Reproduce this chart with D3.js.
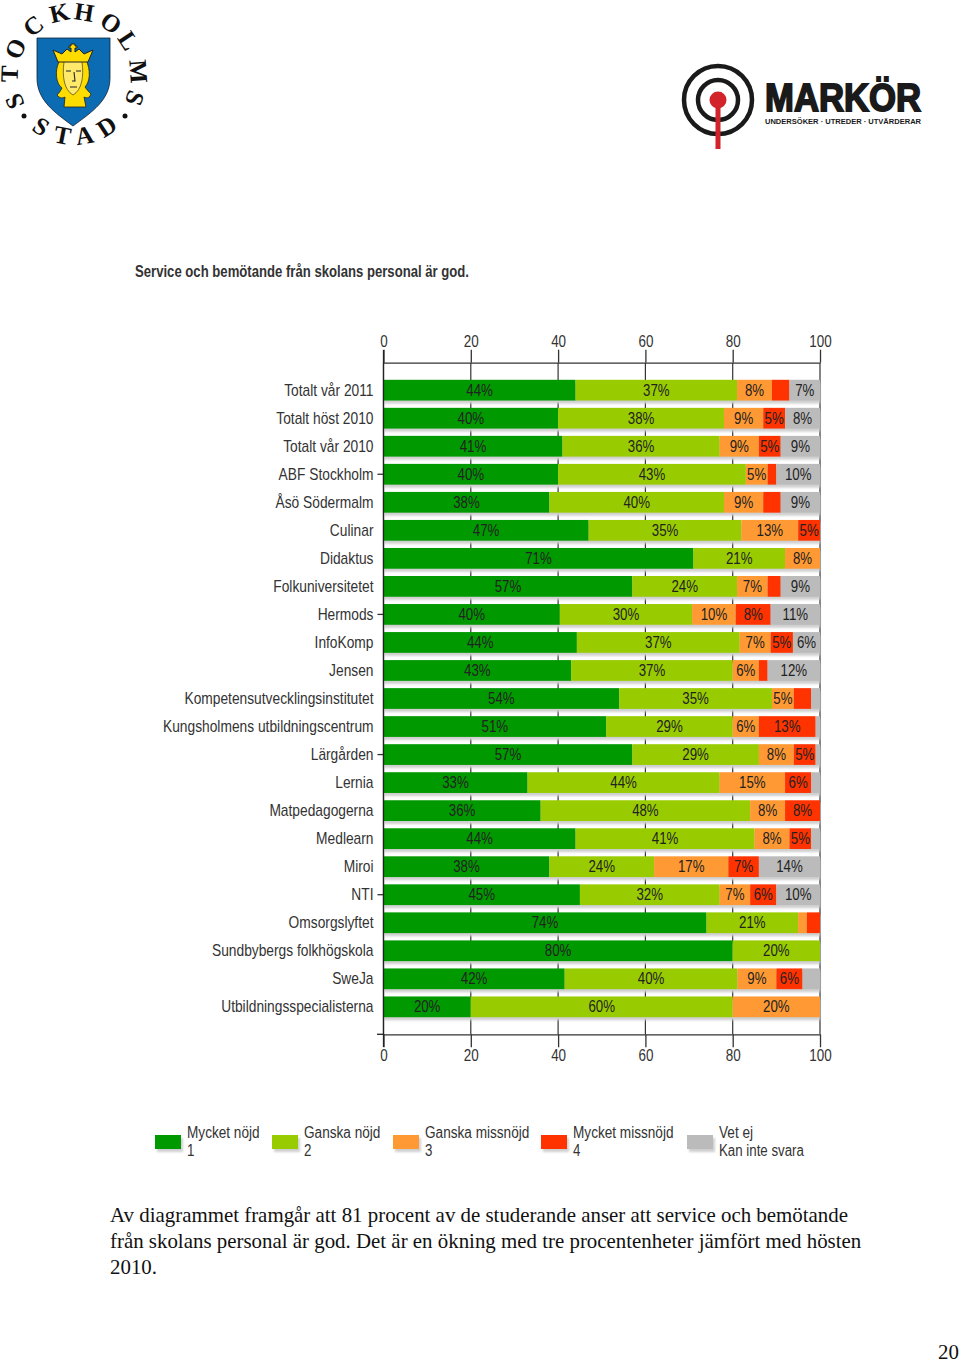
<!DOCTYPE html>
<html>
<head>
<meta charset="utf-8">
<script src="https://cdn.jsdelivr.net/npm/d3@7"></script>
<style>
    html, body { margin: 0; padding: 0; background: #fff; }
    svg { display: block; }
    .narrow { font-family: "Liberation Sans", sans-serif; }
    .body-text { font-family: "Liberation Serif", serif; font-size: 20.9px; fill: #111; }
</style>
</head>
<body>
<script>
var categories = ['Totalt vår 2011', 'Totalt höst 2010', 'Totalt vår 2010', 'ABF Stockholm', 'Åsö Södermalm',
    'Culinar', 'Didaktus', 'Folkuniversitetet', 'Hermods', 'InfoKomp', 'Jensen', 'Kompetensutvecklingsinstitutet',
    'Kungsholmens utbildningscentrum', 'Lärgården', 'Lernia', 'Matpedagogerna', 'Medlearn', 'Miroi', 'NTI',
    'Omsorgslyftet', 'Sundbybergs folkhögskola', 'SweJa', 'Utbildningsspecialisterna'];

var mycketNojd    = [44, 40, 41, 40, 38, 47, 71, 57, 40.4, 44.3, 43, 54, 51, 57, 33, 36, 44, 38, 45, 74, 80, 41.5, 20];
var ganskaNojd    = [37, 38, 36, 43, 40, 35, 21, 24, 30.3, 37.3, 37, 35, 29, 29, 44, 48, 41, 24, 32, 21, 20, 39.6, 60];
var ganskaMissnojd = [8, 9, 9, 5, 9, 13, 8, 7, 10, 7.1, 6, 5, 6, 8, 15, 8, 8, 17, 7, 2, 0, 8.9, 20];
var mycketMissnojd = [4, 5, 5, 2, 4, 5, 0, 3, 8, 5.1, 2, 4, 13, 5, 6, 8, 5, 7, 6, 3, 0, 6, 0];
var vetEj          = [7, 8, 9, 10, 9, 0, 0, 9, 11.3, 6.2, 12, 2, 1, 1, 2, 0, 2, 14, 10, 0, 0, 4, 0];

var seriesNames = ['Mycket nöjd', 'Ganska nöjd', 'Ganska missnöjd', 'Mycket missnöjd', 'Vet ej'];
var seriesSub = ['1', '2', '3', '4', 'Kan inte svara'];
var seriesValues = [mycketNojd, ganskaNojd, ganskaMissnojd, mycketMissnojd, vetEj];
var seriesColors = ['#009900', '#99cc00', '#ff9933', '#ff3300', '#bbbbbb'];
var xTicks = [0, 20, 40, 60, 80, 100];

var chartTitle = 'Service och bemötande från skolans personal är god.';
var paragraph = ['Av diagrammet framgår att 81 procent av de studerande anser att service och bemötande',
    'från skolans personal är god. Det är en ökning med tre procentenheter jämfört med hösten',
    '2010.'];

var svg = d3.select('body').append('svg').attr('width', 960).attr('height', 1361);

svg.append('defs').append('filter').attr('id', 'soft')
    .append('feGaussianBlur').attr('stdDeviation', 0.8);

var x = d3.scaleLinear().domain([0, 100]).range([383.5, 820]);
var y = d3.scaleBand().domain(categories).range([362.7, 1034.3]).paddingInner(0.26).paddingOuter(0.61);

// the chart font is a narrow one, so squeeze the glyphs
function squeeze(sel, k) {
    sel.each(function() {
        var len = this.getComputedTextLength();
        if (len > 0) d3.select(this).attr('textLength', len * k).attr('lengthAdjust', 'spacingAndGlyphs');
    });
}

// stacked rows, one object per category
var rows = categories.map(function(name, i) {
    var row = { name: name };
    seriesNames.forEach(function(s, j) { row[s] = seriesValues[j][i]; });
    return row;
});
var stacked = d3.stack().keys(seriesNames)(rows);

svg.append('text').attr('class', 'narrow')
    .attr('x', 135).attr('y', 277)
    .attr('font-size', 16.5).attr('font-weight', 'bold').attr('fill', '#333')
    .attr('textLength', 334).attr('lengthAdjust', 'spacingAndGlyphs')
    .text(chartTitle);

// grid lines sit behind the bars and only show in the gaps
svg.append('g').selectAll('line').data(xTicks).join('line')
    .attr('x1', x).attr('x2', x)
    .attr('y1', 363).attr('y2', 1034)
    .attr('stroke', '#333').attr('stroke-width', 1.2);

svg.append('g').attr('filter', 'url(#soft)').selectAll('rect').data(categories).join('rect')
    .attr('x', x(0))
    .attr('y', function(d) { return y(d) + 3; })
    .attr('width', x(100) - x(0))
    .attr('height', y.bandwidth())
    .attr('fill', '#cfcfcf');

var layers = svg.append('g').selectAll('g').data(stacked).join('g')
    .attr('fill', function(d, i) { return seriesColors[i]; });

layers.selectAll('rect').data(function(d) { return d; }).join('rect')
    .attr('x', function(d) { return x(d[0]); })
    .attr('y', function(d) { return y(d.data.name); })
    .attr('width', function(d) { return x(d[1]) - x(d[0]); })
    .attr('height', y.bandwidth());

// small segments carry no label
layers.selectAll('text')
    .data(function(d) { return d.filter(function(p) { return p[1] - p[0] >= 4.95; }); })
    .join('text')
    .attr('class', 'narrow')
    .attr('x', function(d) { return (x(d[0]) + x(d[1])) / 2; })
    .attr('y', function(d) { return y(d.data.name) + y.bandwidth() / 2 + 5.6; })
    .attr('text-anchor', 'middle')
    .attr('font-size', 17)
    .attr('fill', '#222')
    .text(function(d) { return Math.round(d[1] - d[0]) + '%'; })
    .call(squeeze, 0.78);

function styleAxis(g) {
    g.selectAll('path, line').attr('stroke', '#333').attr('stroke-width', 1.3);
    g.selectAll('text').attr('class', 'narrow').attr('font-size', 17).attr('fill', '#333').call(squeeze, 0.79);
}

svg.append('g').attr('transform', 'translate(0,362.7)')
    .call(d3.axisTop(x).tickValues(xTicks).tickSize(13).tickSizeOuter(0).tickPadding(3))
    .call(styleAxis);

svg.append('g').attr('transform', 'translate(0,1034.3)')
    .call(d3.axisBottom(x).tickValues(xTicks).tickSize(13).tickSizeOuter(0).tickPadding(2))
    .call(styleAxis);

// left axis: all names, a tick mark on every fifth row
svg.append('g').attr('transform', 'translate(383.5,0)')
    .call(d3.axisLeft(y).tickSize(0).tickPadding(10))
    .call(function(g) { g.select('.domain').remove(); })
    .call(styleAxis)
    .selectAll('text').attr('textLength', null).call(squeeze, 0.81);

svg.append('g').attr('transform', 'translate(383.5,0)')
    .call(d3.axisLeft(y).tickValues(categories.filter(function(d, i) { return i % 5 === 3; })).tickSize(6).tickSizeOuter(0).tickFormat(''))
    .call(function(g) { g.select('.domain').remove(); })
    .call(styleAxis);

svg.append('line').attr('x1', 383.5).attr('x2', 383.5).attr('y1', 350).attr('y2', 1047)
    .attr('stroke', '#222').attr('stroke-width', 1.3);
svg.append('line').attr('x1', 377).attr('x2', 383.5).attr('y1', 1034.3).attr('y2', 1034.3)
    .attr('stroke', '#222').attr('stroke-width', 1.3);

// legend
var legendLeft = [155, 272, 393, 541, 687];
var legend = svg.append('g').selectAll('g').data(seriesNames).join('g')
    .attr('transform', function(d, i) { return 'translate(' + legendLeft[i] + ',0)'; });
legend.append('rect').attr('x', 2).attr('y', 1138).attr('width', 26).attr('height', 14)
    .attr('fill', '#cfcfcf').attr('filter', 'url(#soft)');
legend.append('rect').attr('y', 1135).attr('width', 26).attr('height', 14)
    .attr('fill', function(d, i) { return seriesColors[i]; });
legend.append('text').attr('class', 'narrow').attr('x', 32).attr('y', 1137.5)
    .attr('font-size', 16).attr('fill', '#333').text(function(d) { return d; }).call(squeeze, 0.85);
legend.append('text').attr('class', 'narrow').attr('x', 32).attr('y', 1156)
    .attr('font-size', 16).attr('fill', '#333').text(function(d, i) { return seriesSub[i]; }).call(squeeze, 0.83);

svg.append('g').selectAll('text').data(paragraph).join('text')
    .attr('class', 'body-text')
    .attr('x', 110)
    .attr('y', function(d, i) { return 1221.5 + i * 26; })
    .text(function(d) { return d; });

svg.append('text').attr('class', 'body-text').attr('x', 938).attr('y', 1358.5).text('20');

// Stockholm logo
var logo = svg.append('g');
var topLetters = [['S', -113], ['T', -88], ['O', -65], ['C', -39], ['K', -13], ['H', 9], ['O', 35], ['L', 57], ['M', 86], ['S', 110]];
var bottomLetters = [['S', 33], ['T', 11], ['A', -10], ['D', -33]];
logo.selectAll('text.top').data(topLetters).join('text').attr('class', 'top')
    .attr('transform', function(d) { return 'translate(74,76) rotate(' + d[1] + ') translate(0,-62)'; })
    .attr('text-anchor', 'middle').attr('dominant-baseline', 'middle')
    .attr('font-family', 'Liberation Serif').attr('font-weight', 'bold').attr('font-size', 25).attr('fill', '#111')
    .text(function(d) { return d[0]; });
logo.selectAll('text.bottom').data(bottomLetters).join('text').attr('class', 'bottom')
    .attr('transform', function(d) { return 'translate(74,76) rotate(' + d[1] + ') translate(0,63)'; })
    .attr('text-anchor', 'middle').attr('dominant-baseline', 'middle')
    .attr('font-family', 'Liberation Serif').attr('font-weight', 'bold').attr('font-size', 25).attr('fill', '#111')
    .text(function(d) { return d[0]; });
logo.append('circle').attr('cx', 24).attr('cy', 116).attr('r', 2.5).attr('fill', '#111');
logo.append('circle').attr('cx', 125).attr('cy', 116).attr('r', 2.5).attr('fill', '#111');
logo.append('path').attr('d', 'M37,38 H110 V78 C110,100 92,112 73,126 C54,112 37,100 37,78 Z')
    .attr('fill', '#0b6cb4').attr('stroke', '#123').attr('stroke-width', 0.8);
// hair and neck
logo.append('path').attr('d', 'M60,60 C54,70 56,84 62,88 C60,92 58,94 57,95 C60,99 63,98 65,97 L64,107 H86 L84,97 C86,98 89,99 91,94 C89,92 87,90 85,87 C90,82 91,70 86,60 Z')
    .attr('fill', '#ffdc00').attr('stroke', '#222').attr('stroke-width', 0.8);
// face
logo.append('path').attr('d', 'M64,62 C62,76 64,90 73,95 C82,90 84,76 82,62')
    .attr('fill', '#ffe96a').attr('stroke', '#222').attr('stroke-width', 0.6);
logo.append('path').attr('d', 'M66,71 H71 M76,71 H81 M74,72 L75,81 H72 M70,87 H77')
    .attr('fill', 'none').attr('stroke', '#222').attr('stroke-width', 1.1);
// crown
logo.append('path').attr('d', 'M58,62 L53,50 L62,54 L67,49 L71,52 V48 H69 V46 H71 V44 H75 V46 H77 V48 H75 V52 L79,49 L84,54 L93,50 L88,62 Z')
    .attr('fill', '#ffdc00').attr('stroke', '#222').attr('stroke-width', 1);

// Markör logo
var mark = svg.append('g');
mark.append('circle').attr('cx', 718).attr('cy', 100).attr('r', 34).attr('fill', 'none').attr('stroke', '#1a1a1a').attr('stroke-width', 4.5);
mark.append('circle').attr('cx', 718).attr('cy', 100).attr('r', 20).attr('fill', 'none').attr('stroke', '#1a1a1a').attr('stroke-width', 4.5);
mark.append('rect').attr('x', 715.5).attr('y', 100).attr('width', 5).attr('height', 49).attr('fill', '#d2232a');
mark.append('circle').attr('cx', 718).attr('cy', 100).attr('r', 8.5).attr('fill', '#d2232a');
mark.append('text').attr('x', 765).attr('y', 111)
    .attr('font-family', 'Liberation Sans').attr('font-weight', 'bold').attr('font-size', 38).attr('fill', '#1a1a1a')
    .attr('stroke', '#1a1a1a').attr('stroke-width', 1.8)
    .attr('textLength', 156).attr('lengthAdjust', 'spacingAndGlyphs').text('MARKÖR');
mark.append('text').attr('x', 765).attr('y', 123.5)
    .attr('font-family', 'Liberation Sans').attr('font-weight', 'bold').attr('font-size', 8).attr('fill', '#1a1a1a')
    .attr('textLength', 156).attr('lengthAdjust', 'spacingAndGlyphs').text('UNDERSÖKER · UTREDER · UTVÄRDERAR');
</script>
</body>
</html>
